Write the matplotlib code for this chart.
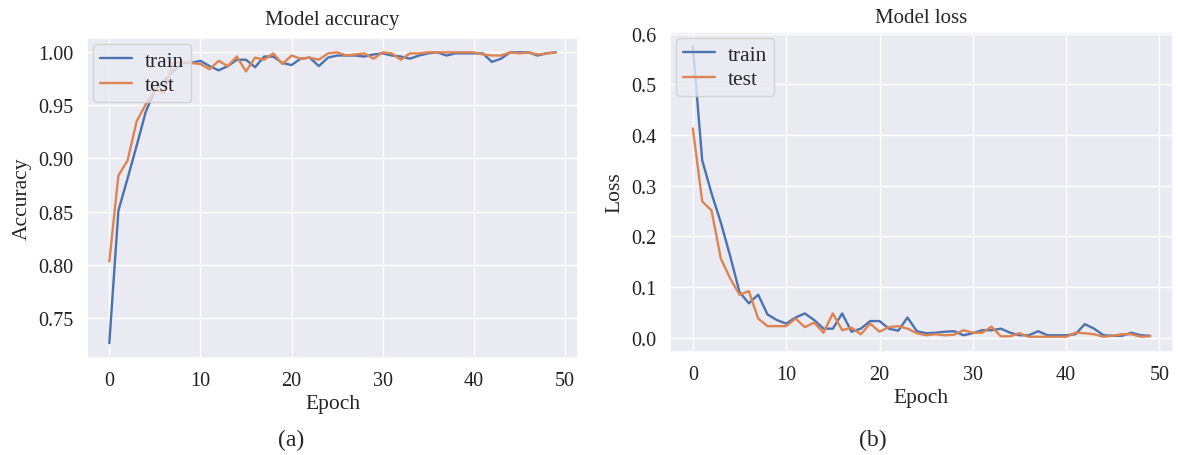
import matplotlib
matplotlib.use("Agg")
import matplotlib.pyplot as plt
import seaborn as sns

epochs = list(range(50))

acc_train = [0.726, 0.851, 0.881, 0.912, 0.944, 0.964, 0.973, 0.982, 0.990, 0.990,
             0.992, 0.987, 0.983, 0.987, 0.993, 0.993, 0.986, 0.996, 0.996, 0.990,
             0.988, 0.994, 0.995, 0.987, 0.995, 0.997, 0.997, 0.997, 0.996, 0.998,
             0.999, 0.997, 0.996, 0.994, 0.997, 0.999, 1.000, 0.997, 0.999, 0.999,
             0.999, 0.999, 0.991, 0.994, 1.000, 1.000, 1.000, 0.997, 0.999, 1.000]
acc_test = [0.803, 0.884, 0.898, 0.935, 0.951, 0.965, 0.962, 0.990, 0.991, 0.990,
            0.989, 0.984, 0.992, 0.987, 0.996, 0.982, 0.995, 0.993, 0.999, 0.989,
            0.997, 0.994, 0.995, 0.993, 0.999, 1.000, 0.997, 0.998, 0.999, 0.994,
            1.000, 0.999, 0.993, 0.999, 0.999, 1.000, 1.000, 1.000, 1.000, 1.000,
            1.000, 0.998, 0.997, 0.997, 1.000, 0.999, 1.000, 0.998, 0.999, 1.000]

loss_train = [0.575, 0.350, 0.285, 0.227, 0.161, 0.090, 0.068, 0.085, 0.046, 0.035,
              0.028, 0.040, 0.048, 0.035, 0.018, 0.018, 0.048, 0.012, 0.018, 0.033,
              0.033, 0.018, 0.014, 0.040, 0.013, 0.009, 0.010, 0.012, 0.013, 0.005,
              0.009, 0.015, 0.015, 0.018, 0.010, 0.005, 0.005, 0.013, 0.005, 0.005,
              0.005, 0.007, 0.027, 0.018, 0.005, 0.004, 0.004, 0.010, 0.005, 0.004]
loss_test = [0.413, 0.269, 0.251, 0.156, 0.117, 0.085, 0.092, 0.038, 0.023, 0.023,
             0.023, 0.038, 0.021, 0.030, 0.010, 0.048, 0.015, 0.020, 0.007, 0.028,
             0.012, 0.021, 0.023, 0.018, 0.009, 0.005, 0.007, 0.005, 0.006, 0.015,
             0.010, 0.010, 0.022, 0.003, 0.003, 0.009, 0.002, 0.002, 0.002, 0.002,
             0.002, 0.010, 0.009, 0.007, 0.002, 0.004, 0.007, 0.007, 0.002, 0.003]

sns.set_theme(style="darkgrid")
plt.rcParams["font.family"] = ["Liberation Serif", "DejaVu Serif"]

W, H = 1178, 456
fig = plt.figure(figsize=(W / 100, H / 100), dpi=100)

ax1 = fig.add_axes([87 / W, (H - 359) / H, (578 - 87) / W, (359 - 39) / H])
ax2 = fig.add_axes([670 / W, (H - 353) / H, (1173 - 670) / W, (353 - 33) / H])

blue = "#4C72B0"
orange = "#DD8452"

panels = [
    (ax1, acc_train, acc_test, "Model accuracy", "Accuracy", (0.712, 1.0135), 10),
    (ax2, loss_train, loss_test, "Model loss", "Loss", (-0.028, 0.603), 7),
]
for ax, tr, te, title, ylab, ylim, pad in panels:
    ax.plot(epochs, tr, color=blue, lw=1.7, label="train")
    ax.plot(epochs, te, color=orange, lw=1.7, label="test")
    ax.set_ylim(*ylim)
    ax.set_title(title, fontsize=15, pad=pad)
    ax.set_xlabel("Epoch", fontsize=15.5, labelpad=3)
    ax.set_ylabel(ylab, fontsize=15.5, labelpad=5)
    ax.set_xticks([0, 10, 20, 30, 40, 50])
    ax.tick_params(labelsize=14.5, colors="#222222")
    ax.legend(loc="upper left", fontsize=15.5, frameon=True,
              facecolor="#EAEAF2", edgecolor="#CCCCCC", framealpha=0.8,
              borderaxespad=0.3, handlelength=1.5, handletextpad=0.6,
              borderpad=0.3, labelspacing=0.2)

fig.text(291 / W, 1 - 440 / H, "(a)", ha="center", va="center", fontsize=17)
fig.text(873 / W, 1 - 440 / H, "(b)", ha="center", va="center", fontsize=17)

plt.savefig("out.png", dpi=100)
plt.close()
